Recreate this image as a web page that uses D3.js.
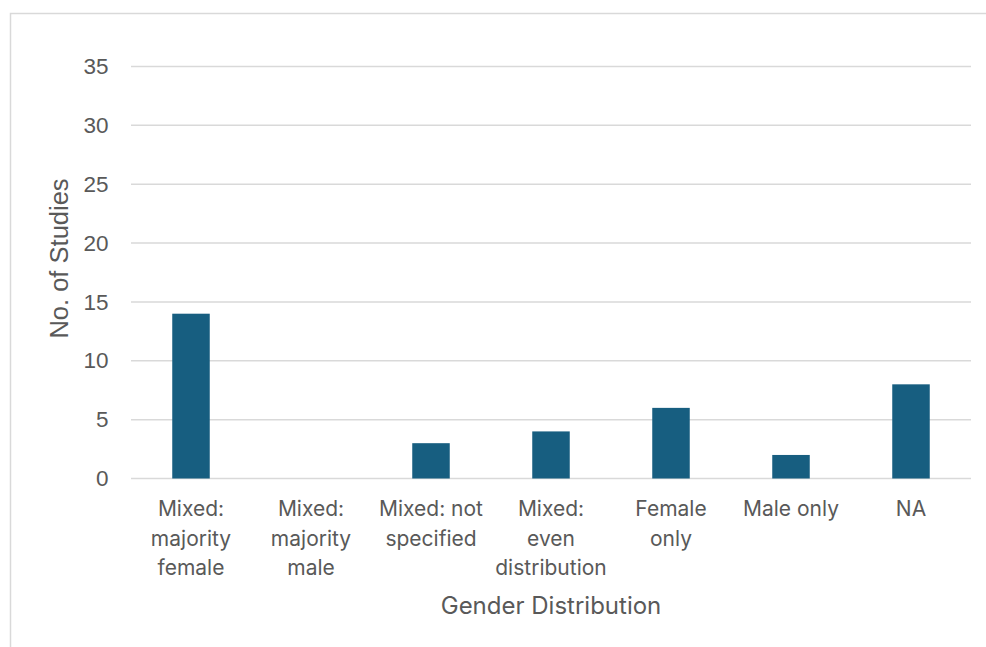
<!DOCTYPE html>
<html><head><meta charset="utf-8">
<script src="https://cdn.jsdelivr.net/npm/d3@7"></script>
<style>html,body{margin:0;padding:0;background:#fff;}</style>
</head><body>
<script>
const categories = [
  ["Mixed:", "majority", "female"],
  ["Mixed:", "majority", "male"],
  ["Mixed: not", "specified"],
  ["Mixed:", "even", "distribution"],
  ["Female", "only"],
  ["Male only"],
  ["NA"]
];
const values = [14, 0, 3, 4, 6, 2, 8];
const yTicks = [0, 5, 10, 15, 20, 25, 30, 35];
const xTitle = "Gender Distribution";
const yTitle = "No. of Studies";

(function () {
const W = 986, H = 647;
const svg = d3.select("body").append("svg").attr("width", W).attr("height", H);
svg.append("rect").attr("x", 10.5).attr("y", 13.5).attr("width", 1000).attr("height", 700)
  .attr("fill", "#fff").attr("stroke", "#d9d9d9").attr("stroke-width", 1.5);

const mLeft = 131, mRight = 971, mTop = 66.5, mBottom = 478.5;
const x = d3.scaleBand().domain(d3.range(categories.length)).range([mLeft, mRight])
  .paddingInner(0.6875).paddingOuter(0.34375);
const y = d3.scaleLinear().domain([0, 35]).range([mBottom, mTop]);

const textColor = "#595959";
const catFont = "Inter, 'Open Sans', sans-serif";
const tickFont = "'Liberation Sans', Arial, sans-serif";

svg.append("g").selectAll("line").data(yTicks).join("line")
  .attr("x1", mLeft).attr("x2", mRight)
  .attr("y1", d => y(d)).attr("y2", d => y(d))
  .attr("stroke", "#d9d9d9").attr("stroke-width", 1.5);

const yAxis = d3.axisLeft(y).tickValues(yTicks).tickSize(0).tickPadding(22.5);
const gy = svg.append("g").attr("transform", `translate(${mLeft},0)`).call(yAxis);
gy.select(".domain").remove();
gy.selectAll("text").attr("fill", textColor).style("font-family", tickFont).style("font-size", "22.5px");

svg.append("g").selectAll("rect").data(values).join("rect")
  .attr("x", (d, i) => x(i)).attr("width", x.bandwidth())
  .attr("y", d => y(d)).attr("height", d => y(0) - y(d))
  .attr("fill", "#175e80");

const cg = svg.append("g");
categories.forEach((lines, i) => {
  const t = cg.append("text").attr("text-anchor", "middle")
    .attr("fill", textColor).style("font-family", catFont).style("font-size", "21px");
  lines.forEach((l, j) => {
    t.append("tspan").attr("x", x(i) + x.bandwidth() / 2).attr("y", 516 + j * 29.5).text(l);
  });
});

svg.append("text").attr("x", (mLeft + mRight) / 2).attr("y", 614).attr("text-anchor", "middle")
  .attr("fill", textColor).style("font-family", catFont).style("font-size", "24px").text(xTitle);
svg.append("text").attr("transform", `translate(68,258.5) rotate(-90)`)
  .attr("text-anchor", "middle").attr("fill", textColor)
  .style("font-family", tickFont).style("font-size", "25.5px").text(yTitle);
})();
</script>
</body></html>
